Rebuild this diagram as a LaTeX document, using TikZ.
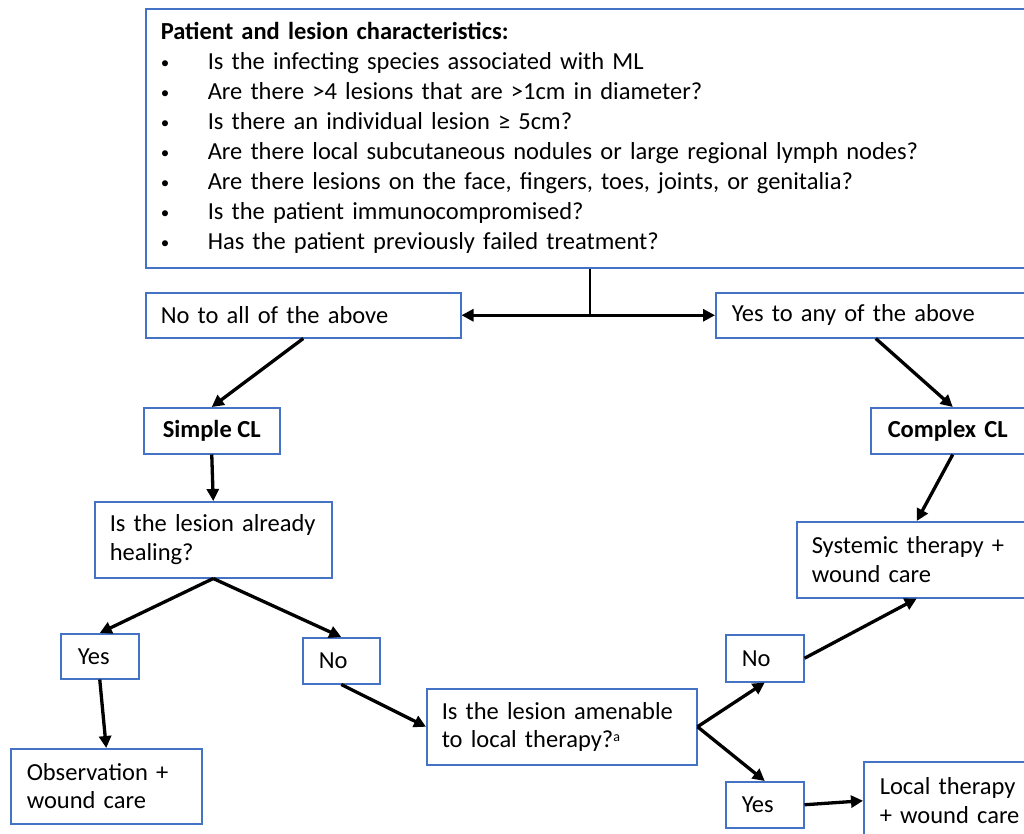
\documentclass[tikz,border=0pt]{standalone}
\usepackage{fontspec}
\setmainfont{Carlito}
\usetikzlibrary{arrows.meta}
\definecolor{boxblue}{HTML}{4472C4}
\newcommand{\blt}{\makebox[47pt][l]{\raisebox{1pt}{\fontsize{17}{17}\selectfont\textbullet}}}
\begin{document}
\begin{tikzpicture}[x=1pt,y=-1pt,
  box/.style={draw=boxblue, line width=1.5pt, anchor=north west, align=left,
    inner ysep=0pt, inner xsep=15pt, font=\fontsize{24.5}{28.5}\selectfont},
  arr/.style={line width=3.3pt, -{Triangle[length=12pt,width=12pt]}}
]
\useasboundingbox (0,0) rectangle (1024,833);
\clip (0,0) rectangle (1024,833);
\fill[white] (0,0) rectangle (1024,833);

\node[box, text width=858pt, minimum height=259pt, font=\fontsize{24.5}{30}\selectfont] (top) at (145,8)
 {\textbf{Patient and lesion characteristics:}\\
  \blt Is the infecting species associated with ML\\
  \blt Are there >4 lesions that are >1cm in diameter?\\
  \blt Is there an individual lesion ≥ 5cm?\\
  \blt Are there local subcutaneous nodules or large regional lymph nodes?\\
  \blt Are there lesions on the face, fingers, toes, joints, or genitalia?\\
  \blt Is the patient immunocompromised?\\
  \blt Has the patient previously failed treatment?};

\node[box, text width=285pt, minimum height=45pt] (noall) at (145,292) {No to all of the above};
\node[box, text width=288pt, inner xsep=16pt, minimum height=45pt] (yesany) at (715,292) {Yes to any of the above};

\node[box, minimum width=136pt, inner xsep=5pt, minimum height=46pt, font=\fontsize{24.5}{28.5}\selectfont\bfseries] (simple) at (143,407) {Simple CL};
\node[box, text width=130pt, inner xsep=17pt, minimum height=46pt, font=\fontsize{24.5}{28.5}\selectfont\bfseries] (complex) at (870,407) {Complex CL};

\node[box, text width=207pt, minimum height=76pt] (healing) at (94,501) {\mbox{Is the lesion already}\\healing?};
\node[box, text width=210pt, minimum height=76pt] (systemic) at (796,521) {\mbox{Systemic therapy +}\\wound care};

\node[box, text width=44pt, inner xsep=17pt, minimum height=45pt] (yes1) at (60,633) {Yes};
\node[box, text width=45pt, inner xsep=16pt, minimum height=46pt] (no1) at (302,637) {No};

\node[box, text width=159pt, inner xsep=16pt, minimum height=75pt] (obs) at (10,748) {\mbox{Observation +}\\wound care};
\node[box, text width=240pt, minimum height=76pt] (amen) at (426,688) {\mbox{Is the lesion amenable}\\to local therapy?{\fontsize{14}{14}\selectfont\raisebox{6pt}{a}}};

\node[box, text width=46pt, inner xsep=16pt, minimum height=47pt] (no2) at (725,634) {No};
\node[box, text width=46pt, inner xsep=16pt, minimum height=46pt] (yes2) at (725,781) {Yes};
\node[box, text width=140pt, inner xsep=16pt, minimum height=78pt] (local) at (863,761) {\mbox{Local therapy}\\+ wound care};

% connectors
\coordinate (split) at (top.south |- noall.east);
\draw[line width=2.5pt] (top.south) -- (split);
\draw[arr] (split) -- (noall.east);
\draw[arr] (split) -- (yesany.west);
\draw[arr] (noall.south) -- (simple.north);
\draw[arr] (yesany.south) -- (complex.north);
\draw[arr] (simple.south) -- (healing.north);
\draw[arr] (complex.south) -- (systemic.north);
\draw[arr] (healing.south) -- (yes1.north);
\draw[arr] (healing.south) -- (no1.north);
\draw[arr] (yes1.south) -- (obs.north);
\draw[arr] (no1.south) -- (amen.west);
\draw[arr] (amen.east) -- (no2.south);
\draw[arr] (amen.east) -- (yes2.north);
\draw[arr] (no2.east) -- (systemic.south);
\draw[arr] (yes2.east) -- (local.west);
\end{tikzpicture}
\end{document}
